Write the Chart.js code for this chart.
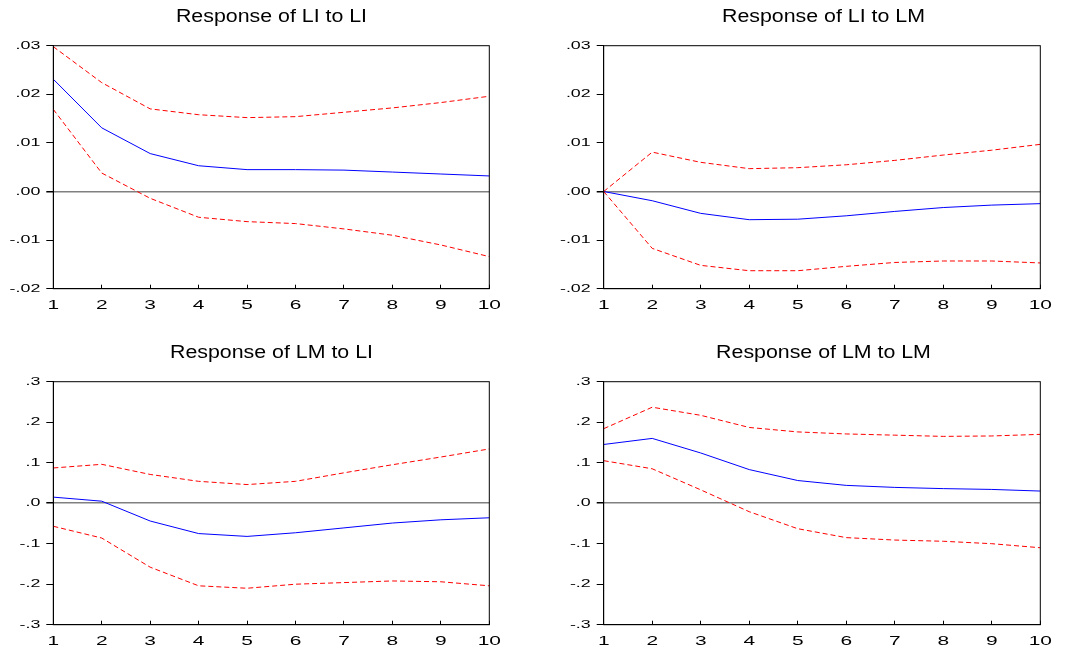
<!DOCTYPE html>
<html>
<head>
<meta charset="utf-8">
<script src="https://cdn.jsdelivr.net/npm/chart.js@4.4.1/dist/chart.umd.min.js"></script>
<style>
  html, body { margin: 0; padding: 0; background: #fff; overflow: hidden; }
  body { width: 1073px; height: 652px; position: relative; }
  canvas { position: absolute; }
</style>
</head>
<body>
<canvas id="liLi" width="543" height="316" style="left:0px;top:0px"></canvas>
<canvas id="liLm" width="547" height="316" style="left:550px;top:0px"></canvas>
<canvas id="lmLi" width="543" height="316" style="left:0px;top:336px"></canvas>
<canvas id="lmLm" width="547" height="316" style="left:550px;top:336px"></canvas>
<script>
const periods = ['1', '2', '3', '4', '5', '6', '7', '8', '9', '10'];

// Response of LI to LI
const liLiResp  = [0.0231, 0.0131, 0.0078, 0.0053, 0.0045, 0.0045, 0.0044, 0.0040, 0.0036, 0.0032];
const liLiUpper = [0.0298, 0.0224, 0.0170, 0.0158, 0.0152, 0.0154, 0.0163, 0.0172, 0.0183, 0.0196];
const liLiLower = [0.0169, 0.0038, -0.0014, -0.0053, -0.0062, -0.0066, -0.0077, -0.0090, -0.0110, -0.0134];

// Response of LI to LM
const liLmResp  = [0, -0.0019, -0.0045, -0.0058, -0.0057, -0.0050, -0.0041, -0.0033, -0.0028, -0.0025];
const liLmUpper = [0, 0.0081, 0.0060, 0.0047, 0.0049, 0.0055, 0.0064, 0.0075, 0.0085, 0.0097];
const liLmLower = [0, -0.0117, -0.0152, -0.0163, -0.0163, -0.0154, -0.0146, -0.0143, -0.0143, -0.0147];

// Response of LM to LI
const lmLiResp  = [0.015, 0.005, -0.044, -0.075, -0.082, -0.073, -0.061, -0.049, -0.041, -0.036];
const lmLiUpper = [0.087, 0.096, 0.071, 0.054, 0.046, 0.054, 0.075, 0.095, 0.114, 0.134];
const lmLiLower = [-0.057, -0.086, -0.158, -0.204, -0.210, -0.200, -0.196, -0.192, -0.194, -0.204];

// Response of LM to LM
const lmLmResp  = [0.145, 0.160, 0.124, 0.083, 0.056, 0.044, 0.039, 0.036, 0.034, 0.030];
const lmLmUpper = [0.184, 0.237, 0.217, 0.187, 0.176, 0.171, 0.168, 0.165, 0.166, 0.170];
const lmLmLower = [0.105, 0.085, 0.033, -0.021, -0.063, -0.085, -0.091, -0.094, -0.100, -0.110];

const fontFamily = '"Liberation Sans", Arial, Helvetica, sans-serif';

// the reference text is stretched sideways, so widen glyphs round their anchor
const stretchText = {
  id: 'stretchText',
  beforeInit(chart) {
    const ctx = chart.ctx;
    const fill = ctx.fillText.bind(ctx);
    ctx.fillText = function (text, x, y) {
      const m = ctx.font.match(/([\d.]+)px/);
      const sx = m && parseFloat(m[1]) > 15 ? 1.22 : 1.55;
      ctx.save();
      ctx.translate(x, y);
      ctx.scale(sx, 1);
      fill(text, 0, 0);
      ctx.restore();
    };
  }
};

const frame = {
  id: 'frame',
  afterDatasetsDraw(chart) {
    const { ctx, chartArea } = chart;
    ctx.save();
    ctx.strokeStyle = '#000';
    ctx.lineWidth = 1;
    ctx.strokeRect(chartArea.left, chartArea.top,
      chartArea.right - chartArea.left, chartArea.bottom - chartArea.top);
    ctx.restore();
  }
};

function makePanel(id, title, resp, upper, lower, yMin, yMax, step, decimals, axisWidth, padRight) {
  const ctx = document.getElementById(id).getContext('2d');
  const band = {
    borderColor: '#ff0000',
    borderWidth: 1,
    borderDash: [5, 3],
    pointRadius: 0,
    tension: 0,
    fill: false
  };
  return new Chart(ctx, {
    type: 'line',
    data: {
      labels: periods,
      datasets: [
        Object.assign({ label: 'upper', data: upper }, band),
        Object.assign({ label: 'lower', data: lower }, band),
        {
          label: 'response',
          data: resp,
          borderColor: '#0000ff',
          borderWidth: 1,
          pointRadius: 0,
          tension: 0,
          fill: false
        }
      ]
    },
    options: {
      responsive: false,
      animation: false,
      devicePixelRatio: 1,
      layout: { padding: 0 },
      plugins: {
        legend: { display: false },
        tooltip: { enabled: false },
        title: {
          display: true,
          text: title,
          color: '#000',
          font: { family: fontFamily, size: 17.5, weight: 'normal' },
          padding: { top: 7, bottom: 17.7 }
        }
      },
      scales: {
        x: {
          offset: false,
          grid: {
            drawOnChartArea: false,
            color: '#000',
            tickLength: -4
          },
          border: { color: '#000', width: 1 },
          ticks: {
            color: '#000',
            padding: 12,
            autoSkip: false,
            maxRotation: 0,
            font: { family: fontFamily, size: 13.5 }
          },
          afterFit(scale) { scale.height = 27.3; }
        },
        y: {
          min: yMin,
          max: yMax,
          grid: {
            color: c => Math.abs(c.tick.value) < 1e-9 ? '#808080' : 'rgba(0,0,0,0)',
            lineWidth: c => Math.abs(c.tick.value) < 1e-9 ? 1.5 : 1,
            tickColor: '#000',
            tickLength: 7
          },
          border: { color: '#000', width: 1 },
          ticks: {
            stepSize: step,
            color: '#000',
            padding: 6,
            font: { family: fontFamily, size: 11.5 },
            callback: v => v.toFixed(decimals).replace('0.', '.')
          },
          afterFit(scale) { scale.width = axisWidth; }
        },
        // empty right-hand margin, so the title stays centred over the plot
        spacer: {
          position: 'right',
          grid: { display: false },
          border: { display: false },
          ticks: { display: false },
          afterFit(scale) { scale.width = padRight; }
        }
      }
    },
    plugins: [stretchText, frame]
  });
}

makePanel('liLi', 'Response of LI to LI', liLiResp, liLiUpper, liLiLower, -0.02, 0.03, 0.01, 2, 53.3, 53.7);
makePanel('liLm', 'Response of LI to LM', liLmResp, liLmUpper, liLmLower, -0.02, 0.03, 0.01, 2, 53.7, 56.7);
makePanel('lmLi', 'Response of LM to LI', lmLiResp, lmLiUpper, lmLiLower, -0.3, 0.3, 0.1, 1, 53.3, 53.7);
makePanel('lmLm', 'Response of LM to LM', lmLmResp, lmLmUpper, lmLmLower, -0.3, 0.3, 0.1, 1, 53.7, 56.7);
</script>
</body>
</html>
